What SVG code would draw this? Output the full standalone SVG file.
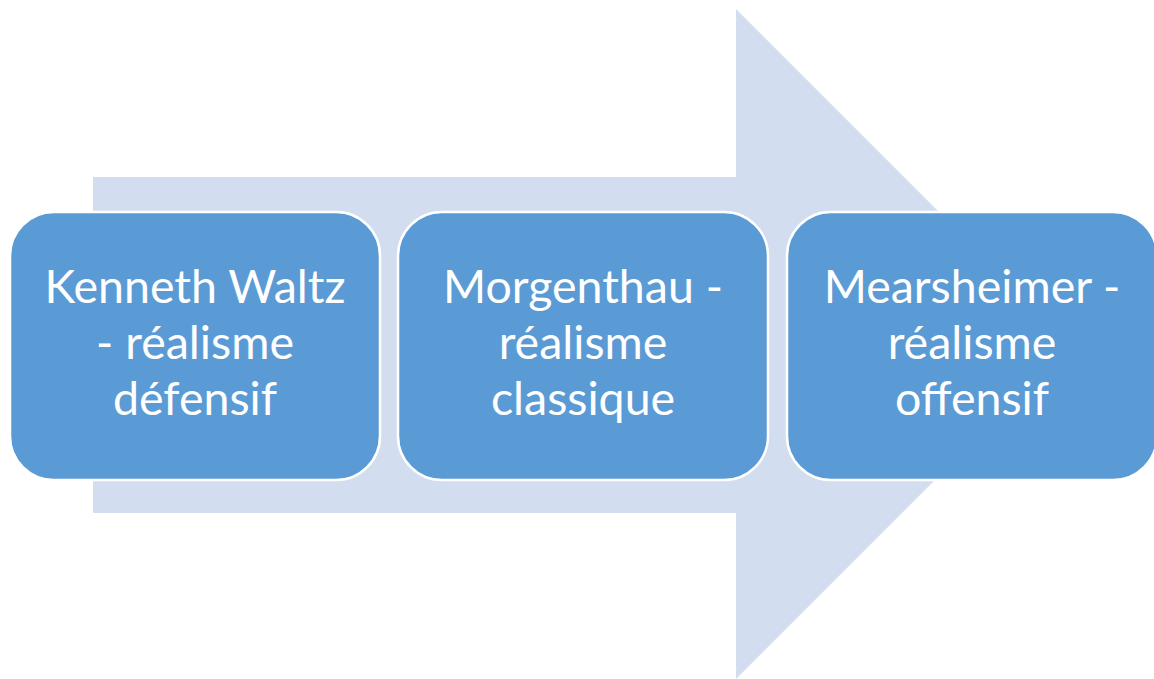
<svg xmlns="http://www.w3.org/2000/svg" width="1154" height="679" viewBox="0 0 1154 679">
<style>
.box{fill:#5B9BD5;stroke:#FFFFFF;stroke-width:2.5}
.lbl{font-family:Lato,"Open Sans","Liberation Sans",sans-serif;font-size:46.5px;fill:#FFFFFF;text-anchor:middle}
</style>
<rect width="1154" height="679" fill="#FFFFFF"/>
<g id="arrow">
<polygon points="93,177 736,177 736,9 1071,344 736,679 736,513 93,513" fill="#D2DEEF"/>
</g>
<g id="node1">
<rect class="box" x="10" y="212" width="370" height="268" rx="44" ry="44"/>
<text class="lbl" x="195" y="303">Kenneth Waltz</text>
<text class="lbl" x="195" y="359">- réalisme</text>
<text class="lbl" x="195" y="415">défensif</text>
</g>
<g id="node2">
<rect class="box" x="398" y="212" width="370" height="268" rx="44" ry="44"/>
<text class="lbl" x="583" y="303">Morgenthau -</text>
<text class="lbl" x="583" y="359">réalisme</text>
<text class="lbl" x="583" y="415">classique</text>
</g>
<g id="node3">
<rect class="box" x="787" y="212" width="370" height="268" rx="44" ry="44"/>
<text class="lbl" x="972" y="303">Mearsheimer -</text>
<text class="lbl" x="972" y="359">réalisme</text>
<text class="lbl" x="972" y="415">offensif</text>
</g>
<g id="connectors"></g>
</svg>
